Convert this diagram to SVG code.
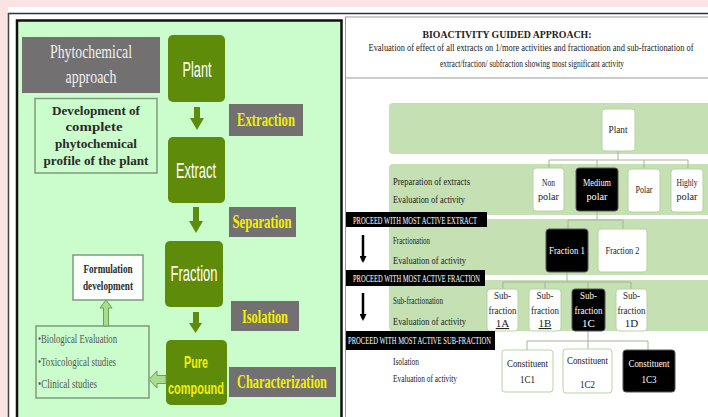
<svg xmlns="http://www.w3.org/2000/svg" width="708" height="417" viewBox="0 0 708 417">
<style>
.gnode{fill:#5f8b0b;}
.glbl{fill:#727070;}
.nodet{font-family:"Liberation Sans",Arial,sans-serif;font-size:22px;fill:#fff;text-anchor:middle;}
.yel{font-family:"Liberation Serif","Times New Roman",serif;font-weight:bold;font-size:18px;fill:#f4f000;text-anchor:middle;}
.pure{font-family:"Liberation Sans",Arial,sans-serif;font-weight:bold;font-size:17px;fill:#f4f000;text-anchor:middle;}
.dev{font-family:"Liberation Serif","Times New Roman",serif;font-weight:bold;font-size:13px;fill:#2a2a2a;text-anchor:middle;}
.lst{font-family:"Liberation Serif","Times New Roman",serif;font-size:12px;fill:#555;}
.phy{font-family:"Liberation Serif","Times New Roman",serif;font-size:18px;fill:#f0f0f0;text-anchor:middle;}
.ttl{font-family:"Liberation Serif","Times New Roman",serif;font-size:11px;fill:#222;text-anchor:middle;}
.lab{font-family:"Liberation Serif","Times New Roman",serif;font-size:11px;fill:#222;}
.bx{fill:#fff;stroke:#b7d3a3;stroke-width:1;}
.bk{fill:#000;stroke:#555;stroke-width:1;}
.bt{font-family:"Liberation Serif","Times New Roman",serif;font-size:11px;fill:#222;text-anchor:middle;}
.wt{font-family:"Liberation Serif","Times New Roman",serif;font-size:11px;fill:#fff;text-anchor:middle;}
.band{fill:#c5e0b3;}
.pbox{fill:#000;}
.pt{font-family:"Liberation Serif","Times New Roman",serif;font-size:10px;fill:#fff;}
.cn{fill:none;stroke:#a3b596;stroke-width:1;}
.garr{fill:#5f8b0b;}
.larr{fill:#a9dc8c;stroke:#6f9f55;stroke-width:1;}
</style>
<defs>
<marker id="ah" markerWidth="7" markerHeight="7" refX="5" refY="3.5" orient="auto" markerUnits="userSpaceOnUse" viewBox="0 0 7 7">
<path d="M0,0 L7,3.5 L0,7 Z" fill="#000"/>
</marker>
</defs>
<!-- background -->
<rect x="0" y="0" width="708" height="417" fill="#fae3e3"/>
<rect x="8" y="7" width="700" height="410" fill="#fff"/>
<line x1="8" y1="13.5" x2="708" y2="13.5" stroke="#333" stroke-width="1.5"/>
<line x1="345" y1="17" x2="708" y2="17" stroke="#999" stroke-width="1"/>
<line x1="8.5" y1="13" x2="8.5" y2="417" stroke="#444" stroke-width="1.5"/>
<!-- left panel -->
<rect x="17" y="20.5" width="324.5" height="410" fill="#cbfccb" stroke="#111" stroke-width="2.5"/>
<line x1="345.5" y1="17" x2="345.5" y2="417" stroke="#999" stroke-width="1"/>
<line x1="345" y1="78" x2="708" y2="78" stroke="#999" stroke-width="1"/>

<g id="phytochemical-approach">
<rect x="22" y="37" width="138" height="56" class="glbl"/>
<text x="91" y="58" class="phy" textLength="82" lengthAdjust="spacingAndGlyphs">Phytochemical</text>
<text x="91" y="83" class="phy" textLength="51" lengthAdjust="spacingAndGlyphs">approach</text>
</g>
<g id="development">
<rect x="35" y="98.5" width="122" height="74.5" fill="#cbfccb" stroke="#7f9a7f" stroke-width="1.5"/>
<text x="96" y="115" class="dev" textLength="88" lengthAdjust="spacingAndGlyphs">Development of</text>
<text x="94" y="131" class="dev" textLength="57" lengthAdjust="spacingAndGlyphs">complete</text>
<text x="96" y="148" class="dev" textLength="82" lengthAdjust="spacingAndGlyphs">phytochemical</text>
<text x="96" y="165" class="dev" textLength="105" lengthAdjust="spacingAndGlyphs">profile of the plant</text>
</g>
<g id="plant">
<rect x="168" y="35" width="57" height="67" rx="5" class="gnode"/>
<text x="197" y="77" class="nodet" textLength="29" lengthAdjust="spacingAndGlyphs">Plant</text>
</g>
<g id="extract">
<rect x="168" y="137" width="57" height="66" rx="5" class="gnode"/>
<text x="196" y="178" class="nodet" textLength="40" lengthAdjust="spacingAndGlyphs">Extract</text>
</g>
<g id="fraction">
<rect x="165" y="241" width="58" height="66" rx="5" class="gnode"/>
<text x="194" y="281" class="nodet" textLength="47" lengthAdjust="spacingAndGlyphs">Fraction</text>
</g>
<g id="pure-compound">
<rect x="166" y="340" width="61" height="65" rx="5" class="gnode"/>
<text x="196" y="368" class="pure" textLength="24" lengthAdjust="spacingAndGlyphs">Pure</text>
<text x="196" y="394" class="pure" textLength="56" lengthAdjust="spacingAndGlyphs">compound</text>
</g>
<g id="extraction">
<rect x="229" y="104" width="74" height="32" class="glbl"/>
<text x="266" y="126" class="yel" textLength="58" lengthAdjust="spacingAndGlyphs">Extraction</text>
</g>
<g id="separation">
<rect x="229" y="207" width="67" height="30" class="glbl"/>
<text x="262" y="228" class="yel" textLength="59" lengthAdjust="spacingAndGlyphs">Separation</text>
</g>
<g id="isolation">
<rect x="231" y="301" width="68" height="30" class="glbl"/>
<text x="265" y="323" class="yel" textLength="46" lengthAdjust="spacingAndGlyphs">Isolation</text>
</g>
<g id="characterization">
<rect x="229" y="367" width="107" height="30" class="glbl"/>
<text x="282" y="388" class="yel" font-size="17" textLength="90" lengthAdjust="spacingAndGlyphs">Characterization</text>
</g>
<g id="formulation">
<rect x="73" y="255" width="70" height="45" fill="#fbfffb" stroke="#7f9a7f" stroke-width="1.5"/>
<text x="108" y="273" class="dev" font-size="11" textLength="49" lengthAdjust="spacingAndGlyphs">Formulation</text>
<text x="108" y="290" class="dev" font-size="11" textLength="50" lengthAdjust="spacingAndGlyphs">development</text>
</g>
<g id="evaluation-list">
<rect x="36" y="326" width="113" height="72" fill="#cbfccb" stroke="#7f9a7f" stroke-width="1.5"/>
<text x="38" y="343" class="lst" textLength="79" lengthAdjust="spacingAndGlyphs">•Biological Evaluation</text>
<text x="38" y="366" class="lst" textLength="78" lengthAdjust="spacingAndGlyphs">•Toxicological studies</text>
<text x="38" y="388" class="lst" textLength="59" lengthAdjust="spacingAndGlyphs">•Clinical studies</text>
</g>
<g id="left-connectors">
<polygon class="garr" points="194,107 200,107 200,118 204,118 197,130 190,118 194,118"/>
<polygon class="garr" points="193,207 199,207 199,221 203,221 196,233 189,221 193,221"/>
<polygon class="garr" points="193,312 199,312 199,323 202,323 195.5,333 189,323 193,323"/>
<polygon class="larr" points="103.5,326 108.5,326 108.5,308 112,308 106,300 100,308 103.5,308"/>
<polygon class="larr" points="166,375.5 157,375.5 157,371 149,379.5 157,388 157,383.5 166,383.5"/>
</g>

<!-- right panel -->
<g id="title">
<text x="507" y="38" class="ttl" font-weight="bold" textLength="169" lengthAdjust="spacingAndGlyphs">BIOACTIVITY GUIDED APPROACH:</text>
<text x="531" y="51" class="ttl" font-size="10" textLength="325" lengthAdjust="spacingAndGlyphs">Evaluation of  effect of  all extracts on 1/more activities and fractionation and sub-fractionation of</text>
<text x="532" y="67" class="ttl" font-size="10" textLength="184" lengthAdjust="spacingAndGlyphs">extract/fraction/ subfraction showing most significant activity</text>
</g>
<g id="bands">
<rect x="389" y="103" width="330" height="51" rx="4" class="band"/>
<rect x="389" y="164" width="330" height="51" rx="4" class="band"/>
<rect x="389" y="219" width="330" height="56" rx="4" class="band"/>
<rect x="389" y="280" width="330" height="51" rx="4" class="band"/>
</g>
<g id="connectors">
<path class="cn" d="M618,151 V160 M549,160 H688 M549,160 V168 M597,160 V168 M644,160 V168 M688,160 V168"/>
<path class="cn" d="M597,211 V220 M568,220 H623 M568,220 V229 M623,220 V229"/>
<path class="cn" d="M567,272 V282 M503,282 H631 M503,282 V289 M545,282 V289 M588,282 V289 M631,282 V289"/>
<path class="cn" d="M588,331 V341 M527,341 H648 M527,341 V350 M588,341 V349 M648,341 V350"/>
<line x1="363" y1="235" x2="363" y2="261" stroke="#000" stroke-width="2.5" marker-end="url(#ah)"/>
<line x1="363" y1="293" x2="363" y2="319" stroke="#000" stroke-width="2.5" marker-end="url(#ah)"/>
</g>
<g id="row-labels">
<text x="393" y="185" class="lab" textLength="77" lengthAdjust="spacingAndGlyphs">Preparation of extracts</text>
<text x="393" y="203" class="lab" textLength="72" lengthAdjust="spacingAndGlyphs">Evaluation of activity</text>
<text x="393" y="244" class="lab" textLength="37" lengthAdjust="spacingAndGlyphs">Fractionation</text>
<text x="393" y="264" class="lab" textLength="73" lengthAdjust="spacingAndGlyphs">Evaluation of activity</text>
<text x="393" y="304" class="lab" textLength="50" lengthAdjust="spacingAndGlyphs">Sub-fractionation</text>
<text x="393" y="325" class="lab" textLength="73" lengthAdjust="spacingAndGlyphs">Evaluation of activity</text>
<text x="393" y="365" class="lab" font-size="10" textLength="26" lengthAdjust="spacingAndGlyphs">Isolation</text>
<text x="393" y="382" class="lab" font-size="10" textLength="64" lengthAdjust="spacingAndGlyphs">Evaluation of activity</text>
</g>
<g id="r-plant">
<rect x="602" y="109" width="33" height="42" rx="3" class="bx"/>
<text x="618" y="133" class="bt" textLength="19" lengthAdjust="spacingAndGlyphs">Plant</text>
</g>
<g id="non-polar">
<rect x="533" y="168" width="31" height="43" rx="3" class="bx"/>
<text x="548.5" y="186" class="bt" textLength="13" lengthAdjust="spacingAndGlyphs">Non</text>
<text x="548.5" y="200" class="bt" textLength="21" lengthAdjust="spacingAndGlyphs">polar</text>
</g>
<g id="medium-polar">
<rect x="576" y="168" width="42" height="43" rx="3" class="bk"/>
<text x="597" y="186" class="wt" textLength="28" lengthAdjust="spacingAndGlyphs">Medium</text>
<text x="597" y="200" class="wt" textLength="21" lengthAdjust="spacingAndGlyphs">polar</text>
</g>
<g id="polar">
<rect x="628" y="169" width="32" height="43" rx="3" class="bx"/>
<text x="644" y="193" class="bt" textLength="17" lengthAdjust="spacingAndGlyphs">Polar</text>
</g>
<g id="highly-polar">
<rect x="671" y="169" width="32" height="43" rx="3" class="bx"/>
<text x="687" y="186" class="bt" textLength="21" lengthAdjust="spacingAndGlyphs">Highly</text>
<text x="687" y="200" class="bt" textLength="21" lengthAdjust="spacingAndGlyphs">polar</text>
</g>
<g id="fraction-1">
<rect x="546" y="229" width="42" height="43" rx="3" class="bk"/>
<text x="567" y="254" class="wt" textLength="36" lengthAdjust="spacingAndGlyphs">Fraction 1</text>
</g>
<g id="fraction-2">
<rect x="598" y="229" width="49" height="43" rx="3" class="bx"/>
<text x="622.5" y="254" class="bt" textLength="34" lengthAdjust="spacingAndGlyphs">Fraction 2</text>
</g>
<g id="sub-1a">
<rect x="487" y="289" width="31" height="42" rx="3" class="bx"/>
<text x="502.5" y="299" class="bt" textLength="17" lengthAdjust="spacingAndGlyphs">Sub-</text>
<text x="502.5" y="314" class="bt" textLength="28" lengthAdjust="spacingAndGlyphs">fraction</text>
<text x="502.5" y="327" class="bt" text-decoration="underline">1A</text>
</g>
<g id="sub-1b">
<rect x="529" y="289" width="32" height="42" rx="3" class="bx"/>
<text x="545" y="299" class="bt" textLength="17" lengthAdjust="spacingAndGlyphs">Sub-</text>
<text x="545" y="314" class="bt" textLength="28" lengthAdjust="spacingAndGlyphs">fraction</text>
<text x="545" y="327" class="bt" text-decoration="underline">1B</text>
</g>
<g id="sub-1c">
<rect x="572" y="289" width="33" height="42" rx="3" class="bk"/>
<text x="588.5" y="299" class="wt" textLength="17" lengthAdjust="spacingAndGlyphs">Sub-</text>
<text x="588.5" y="314" class="wt" textLength="28" lengthAdjust="spacingAndGlyphs">fraction</text>
<text x="588.5" y="327" class="wt">1C</text>
</g>
<g id="sub-1d">
<rect x="616" y="289" width="31" height="42" rx="3" class="bx"/>
<text x="631.5" y="299" class="bt" textLength="17" lengthAdjust="spacingAndGlyphs">Sub-</text>
<text x="631.5" y="314" class="bt" textLength="28" lengthAdjust="spacingAndGlyphs">fraction</text>
<text x="631.5" y="327" class="bt">1D</text>
</g>
<g id="constituent-1c1">
<rect x="502" y="350" width="51" height="42" rx="3" class="bx"/>
<text x="527.5" y="367" class="bt" textLength="41" lengthAdjust="spacingAndGlyphs">Constituent</text>
<text x="527.5" y="383" class="bt" textLength="15" lengthAdjust="spacingAndGlyphs">1C1</text>
</g>
<g id="constituent-1c2">
<rect x="563" y="349" width="49" height="44" rx="3" class="bx"/>
<text x="587.5" y="364" class="bt" textLength="41" lengthAdjust="spacingAndGlyphs">Constituent</text>
<text x="587.5" y="388" class="bt" textLength="15" lengthAdjust="spacingAndGlyphs">1C2</text>
</g>
<g id="constituent-1c3">
<rect x="623" y="350" width="52" height="42" rx="3" class="bk"/>
<text x="649" y="367" class="wt" textLength="41" lengthAdjust="spacingAndGlyphs">Constituent</text>
<text x="649" y="383" class="wt" textLength="15" lengthAdjust="spacingAndGlyphs">1C3</text>
</g>
<g id="proceed-extract">
<rect x="346" y="212" width="141" height="15" class="pbox"/>
<text x="353" y="224" class="pt" textLength="124" lengthAdjust="spacingAndGlyphs">PROCEED WITH MOST ACTIVE EXTRACT</text>
</g>
<g id="proceed-fraction">
<rect x="346" y="270" width="139" height="16" class="pbox"/>
<text x="353" y="282" class="pt" textLength="127" lengthAdjust="spacingAndGlyphs">PROCEED WITH MOST ACTIVE FRACTION</text>
</g>
<g id="proceed-subfraction">
<rect x="346" y="331" width="149" height="19" class="pbox"/>
<text x="348" y="344" class="pt" textLength="143" lengthAdjust="spacingAndGlyphs">PROCEED WITH MOST ACTIVE SUB-FRACTION</text>
</g>
</svg>
